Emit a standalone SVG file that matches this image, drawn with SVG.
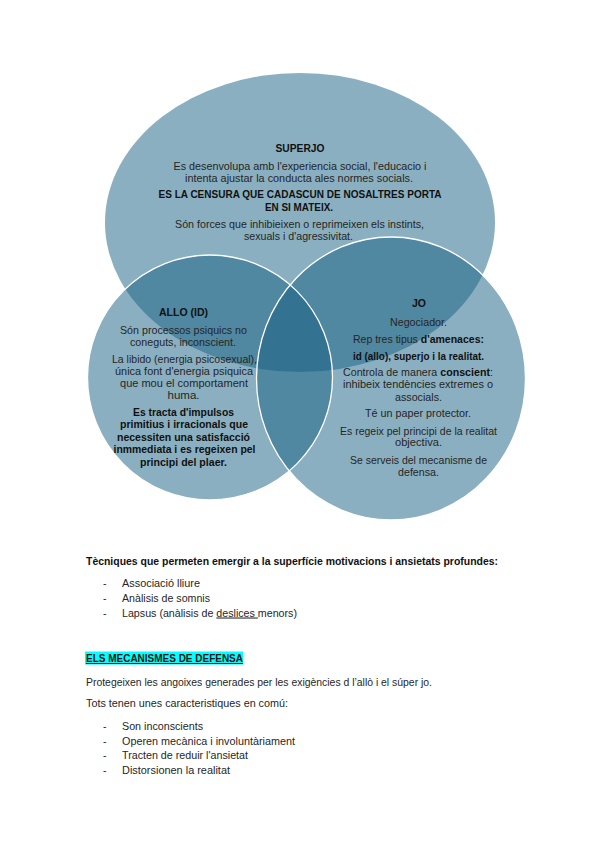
<svg xmlns="http://www.w3.org/2000/svg" width="599" height="848" viewBox="0 0 599 848">
<style>
.blob{fill:#155f81;fill-opacity:0.5}
.ring{fill:none;stroke:#ffffff;stroke-width:1.3}
text{font-family:"Liberation Sans","Open Sans",Arial,sans-serif;font-size:10.3px;fill:#262626}
.c{text-anchor:middle}
.b{font-weight:bold;fill:#111}
.h{font-size:10.8px;font-weight:bold;fill:#111}
.t{font-size:10.5px}
.tb{font-size:10.3px;font-weight:bold;fill:#111}
</style>
<rect width="599" height="848" fill="#ffffff"/>
<g id="shapes">
<ellipse class="blob" cx="300" cy="222.5" rx="195" ry="149.5"/>
<circle class="blob" cx="210" cy="377.5" r="122.5"/>
<ellipse class="blob" cx="391" cy="378.5" rx="134.5" ry="141.5"/>
<circle class="ring" cx="210" cy="377.5" r="122.5"/>
<ellipse class="ring" cx="391" cy="378.5" rx="134.5" ry="141.5"/>
</g>
<g id="superjo">
<text class="c h" x="300" y="152" textLength="49" lengthAdjust="spacingAndGlyphs">SUPERJO</text>
<text class="c" x="300" y="169.5" textLength="253" lengthAdjust="spacingAndGlyphs">Es desenvolupa amb l'experiencia social, l'educacio i</text>
<text class="c" x="299" y="181.5" textLength="228" lengthAdjust="spacingAndGlyphs">intenta ajustar la conducta ales normes socials.</text>
<text class="c b" x="300" y="198" textLength="283" lengthAdjust="spacingAndGlyphs">ES LA CENSURA QUE CADASCUN DE NOSALTRES PORTA</text>
<text class="c b" x="299" y="210.5" textLength="68" lengthAdjust="spacingAndGlyphs">EN SI MATEIX.</text>
<text class="c" x="299.5" y="227.5" textLength="249" lengthAdjust="spacingAndGlyphs">Són forces que inhibieixen o reprimeixen els instints,</text>
<text class="c" x="298.5" y="239.5" textLength="109" lengthAdjust="spacingAndGlyphs">sexuals i d'agressivitat.</text>
</g>
<g id="allo">
<text class="c h" x="183.5" y="316" textLength="49" lengthAdjust="spacingAndGlyphs">ALLO (ID)</text>
<text class="c" x="183.5" y="333.5" textLength="127" lengthAdjust="spacingAndGlyphs">Són processos psiquics no</text>
<text class="c" x="183" y="345.5" textLength="106" lengthAdjust="spacingAndGlyphs">coneguts, inconscient.</text>
<text class="c" x="184.5" y="362.5" textLength="145" lengthAdjust="spacingAndGlyphs">La libido (energia psicosexual),</text>
<text class="c" x="184" y="374.5" textLength="138" lengthAdjust="spacingAndGlyphs">única font d'energia psiquica</text>
<text class="c" x="184" y="386.5" textLength="128" lengthAdjust="spacingAndGlyphs">que mou el comportament</text>
<text class="c" x="183.5" y="398.5" textLength="32" lengthAdjust="spacingAndGlyphs">huma.</text>
<text class="c b" x="183.5" y="415.5" textLength="101" lengthAdjust="spacingAndGlyphs">Es tracta d'impulsos</text>
<text class="c b" x="184" y="428" textLength="128" lengthAdjust="spacingAndGlyphs">primitius i irracionals que</text>
<text class="c b" x="183.5" y="440.5" textLength="133" lengthAdjust="spacingAndGlyphs">necessiten una satisfacció</text>
<text class="c b" x="184.5" y="452.5" textLength="142" lengthAdjust="spacingAndGlyphs">inmmediata i es regeixen pel</text>
<text class="c b" x="183.5" y="465.5" textLength="87" lengthAdjust="spacingAndGlyphs">principi del plaer.</text>
</g>
<g id="jo">
<text class="c h" x="419" y="307" textLength="14" lengthAdjust="spacingAndGlyphs">JO</text>
<text class="c" x="418.5" y="325.5" textLength="57" lengthAdjust="spacingAndGlyphs">Negociador.</text>
<text class="c" x="418.5" y="342.5" textLength="131" lengthAdjust="spacingAndGlyphs">Rep tres tipus <tspan class="b">d'amenaces:</tspan></text>
<text class="c b" x="418.5" y="359.5" textLength="131" lengthAdjust="spacingAndGlyphs">id (allo), superjo i la realitat.</text>
<text class="c" x="418" y="375.5" textLength="150" lengthAdjust="spacingAndGlyphs">Controla de manera <tspan class="b">conscient</tspan>:</text>
<text class="c" x="418" y="387.5" textLength="150" lengthAdjust="spacingAndGlyphs">inhibeix tendències  extremes o</text>
<text class="c" x="418.5" y="400.5" textLength="47" lengthAdjust="spacingAndGlyphs">associals.</text>
<text class="c" x="418" y="416.5" textLength="106" lengthAdjust="spacingAndGlyphs">Té un paper protector.</text>
<text class="c" x="418.5" y="434.5" textLength="157" lengthAdjust="spacingAndGlyphs">Es regeix pel principi de la realitat</text>
<text class="c" x="418.5" y="445.5" textLength="47" lengthAdjust="spacingAndGlyphs">objectiva.</text>
<text class="c" x="418.5" y="463.5" textLength="137" lengthAdjust="spacingAndGlyphs">Se serveis del mecanisme de</text>
<text class="c" x="418.5" y="475.5" textLength="41" lengthAdjust="spacingAndGlyphs">defensa.</text>
</g>
<g id="body">
<text class="tb" x="86" y="564.5" textLength="412" lengthAdjust="spacingAndGlyphs">Tècniques que permeten emergir a la superfície motivacions i ansietats profundes:</text>
<text class="t" x="103" y="586.5">-</text>
<text class="t" x="122" y="586.5" textLength="78" lengthAdjust="spacingAndGlyphs">Associació lliure</text>
<text class="t" x="103" y="601.5">-</text>
<text class="t" x="122" y="601.5" textLength="88" lengthAdjust="spacingAndGlyphs">Anàlisis de somnis</text>
<text class="t" x="103" y="616.5">-</text>
<text class="t" x="122" y="616.5" textLength="175" lengthAdjust="spacingAndGlyphs">Lapsus (anàlisis de <tspan text-decoration="underline">deslices </tspan>menors)</text>
<rect x="85" y="651.5" width="158" height="13" fill="#00ffff"/>
<text class="tb" x="86" y="662" text-decoration="underline" textLength="157" lengthAdjust="spacingAndGlyphs">ELS MECANISMES DE DEFENSA</text>
<text class="t" x="86" y="685.5" textLength="346" lengthAdjust="spacingAndGlyphs">Protegeixen les angoixes generades per les exigències d l’allò i el súper jo.</text>
<text class="t" x="86" y="706.5" textLength="202" lengthAdjust="spacingAndGlyphs">Tots tenen unes caracteristiques en comú:</text>
<text class="t" x="103" y="729.5">-</text>
<text class="t" x="122" y="729.5" textLength="81" lengthAdjust="spacingAndGlyphs">Son inconscients</text>
<text class="t" x="103" y="744.5">-</text>
<text class="t" x="122" y="744.5" textLength="173" lengthAdjust="spacingAndGlyphs">Operen mecànica i involuntàriament</text>
<text class="t" x="103" y="758.5">-</text>
<text class="t" x="122" y="758.5" textLength="126" lengthAdjust="spacingAndGlyphs">Tracten de reduir l'ansietat</text>
<text class="t" x="103" y="773.5">-</text>
<text class="t" x="122" y="773.5" textLength="108" lengthAdjust="spacingAndGlyphs">Distorsionen la realitat</text>
</g>
</svg>
